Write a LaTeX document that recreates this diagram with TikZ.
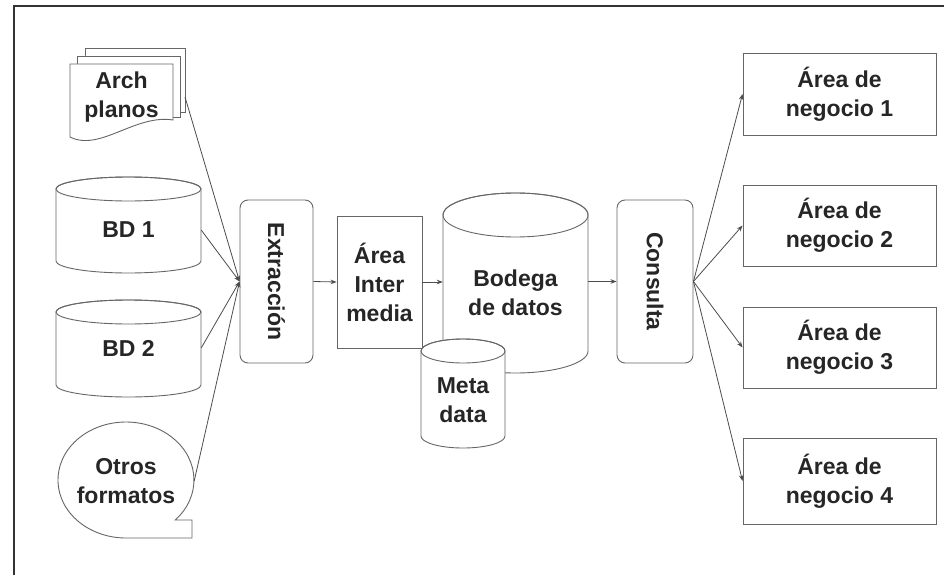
\documentclass[tikz,border=0pt]{standalone}
\usepackage{fontspec}
\setmainfont{Liberation Sans}
\usetikzlibrary{arrows.meta}
\newcommand\mycyl[5]{% cx, top y, rx, bottom y, ry
  \filldraw[shapeline, fill=white] (#1-#3,#2+#5) -- (#1-#3,#4-#5)
    arc[start angle=180,end angle=0,x radius=#3,y radius=#5] -- (#1+#3,#2+#5)
    arc[start angle=0,end angle=-180,x radius=#3,y radius=#5] -- cycle;
  \draw[shapeline] (#1,#2+#5) ellipse [x radius=#3, y radius=#5];
}
\begin{document}
\begin{tikzpicture}[x=1pt,y=-1pt,
  shapeline/.style={draw=black!60, line width=0.9pt},
  lbl/.style={font=\fontsize{23}{29}\selectfont\bfseries, align=center, text=black!85},
  conn/.style={draw=black!70, line width=0.8pt, -{Stealth[length=6pt,width=4.5pt]}},
  rbox/.style={shapeline, rounded corners=8pt, fill=white, inner sep=0pt},
  sbox/.style={shapeline, fill=white, inner sep=0pt}]
\useasboundingbox (0,0) rectangle (944,575);
\draw[line width=2pt, black!80] (14,575) -- (14,6) -- (944,6);

% Arch planos (stacked documents)
\draw[shapeline, fill=white] (85,56) -- (85,48) -- (185,48) -- (185,112) -- (180,112);
\draw[shapeline, fill=white] (77,64) -- (77,56) -- (180,56) -- (180,117) -- (173,117);
\draw[shapeline, fill=white] (70,137) -- (70,64) -- (173,64) -- (173,120)
   .. controls (135,114) and (100,152) .. (70,137) -- cycle;
\node[lbl] (arch) at (121.5,97) {Arch\\planos};
\coordinate (archout) at (185,97);

% BD 1, BD 2
\mycyl{128.5}{177}{72.5}{273}{12}
\node[lbl, minimum width=145, inner sep=0pt] (bd1) at (128.5,230) {BD 1};
\mycyl{128.5}{300}{72.5}{397}{12}
\node[lbl, minimum width=145, inner sep=0pt] (bd2) at (128.5,348) {BD 2};

% Otros formatos
\draw[shapeline, fill=white] (192,520) -- (175.2,520)
  arc[start angle=43.6, end angle=-270, x radius=68, y radius=58] -- (192,538) -- cycle;
\node[lbl, minimum width=136, inner sep=0pt] (otros) at (126,481) {Otros\\formatos};

% Extraccion
\node[rbox, minimum width=73, minimum height=163] (ext) at (276.5,281.5) {};
\node[lbl, rotate=-90] at (ext.center) {Extracción};

% Area intermedia
\node[sbox, minimum width=85, minimum height=132, lbl] (area) at (379.5,282) {Área\\Inter\\media};

% Bodega de datos
\mycyl{515.5}{193}{72.5}{373}{22}
\node[lbl, minimum width=145, inner sep=0pt] (bodega) at (515.5,293) {Bodega\\de datos};

% Meta data
\mycyl{463}{339}{42}{448}{12}
\node[lbl] (meta) at (463,400) {Meta\\data};

% Consulta
\node[rbox, minimum width=76, minimum height=163] (cons) at (655,281.5) {};
\node[lbl, rotate=-90] at (cons.center) {Consulta};

% Areas de negocio
\node[sbox, lbl, minimum width=193, minimum height=82] (n1) at (839.5,94) {Área de\\negocio 1};
\node[sbox, lbl, minimum width=193, minimum height=81] (n2) at (839.5,225.5) {Área de\\negocio 2};
\node[sbox, lbl, minimum width=193, minimum height=81] (n3) at (839.5,347.5) {Área de\\negocio 3};
\node[sbox, lbl, minimum width=193, minimum height=86] (n4) at (839.5,481) {Área de\\negocio 4};

% connectors
\draw[conn] (archout) -- (ext.west);
\draw[conn] (bd1.east) -- (ext.west);
\draw[conn] (bd2.east) -- (ext.west);
\draw[conn] (otros.east) -- (ext.west);
\draw[conn] (ext.east) -- (area.west);
\draw[conn] (area.east) -- (area.east -| bodega.west);
\draw[conn] (bodega.east |- cons.west) -- (cons.west);
\draw[conn] (cons.east) -- (n1.west);
\draw[conn] (cons.east) -- (n2.west);
\draw[conn] (cons.east) -- (n3.west);
\draw[conn] (cons.east) -- (n4.west);
\end{tikzpicture}
\end{document}
